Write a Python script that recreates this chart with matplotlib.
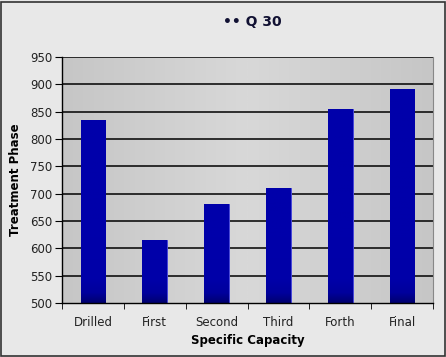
import matplotlib
matplotlib.use("Agg")
import matplotlib.pyplot as plt
import numpy as np

categories = ["Drilled", "First", "Second", "Third", "Forth", "Final"]
values = [834, 615, 681, 711, 855, 892]
yticks = [500, 550, 600, 650, 700, 750, 800, 850, 900, 950]

fig = plt.figure(figsize=(4.46, 3.57), dpi=100, facecolor="#e8e8e8")
ax = fig.add_axes([62 / 446, 1 - 303 / 357, 371 / 446, 246 / 357])

# plot area: soft horizontal gradient of grey
grad = np.abs(np.linspace(-1, 1, 256))[None, :]
ax.imshow(grad, extent=[-0.5, len(categories) - 0.5, 500, 950], aspect="auto",
          cmap=matplotlib.colors.LinearSegmentedColormap.from_list("g", ["#d8d8d8", "#c6c6c6"]),
          zorder=0)

for y in yticks[1:]:
    ax.axhline(y, color="black", lw=1.1, zorder=1)

x = np.arange(len(categories))
bars = ax.bar(x, values, width=0.4, color="#0000a6", edgecolor="#4848d8", lw=0.7, zorder=2)
bcmap = matplotlib.colors.LinearSegmentedColormap.from_list(
    "b", [(0, "#000070"), (0.15, "#00009c"), (0.35, "#0000a8"), (1, "#0000aa")])
for b in bars:
    h = b.get_height() - 500
    # dark band near the base, fixed in data height terms
    vgrad = np.clip(np.linspace(0, h, 256) / 120.0, 0, 1)[:, None]
    im = ax.imshow(vgrad, extent=[b.get_x(), b.get_x() + b.get_width(), 500, b.get_height()],
                   aspect="auto", origin="lower", cmap=bcmap, vmin=0, vmax=1, zorder=2.5)
    im.set_clip_path(b)

ax.set_xlim(-0.5, len(categories) - 0.5)
ax.set_ylim(500, 950)
ax.set_yticks(yticks)
ax.set_yticklabels([str(v) for v in yticks], fontsize=8.5, color="#222222")
ax.set_xticks(x)
ax.set_xticklabels(categories, fontsize=8.5, color="#222222")
ax.tick_params(axis="x", length=0, pad=9)
ax.set_xticks(np.arange(len(categories) + 1) - 0.5, minor=True)
ax.tick_params(axis="x", which="minor", length=4, direction="out")
ax.tick_params(axis="y", length=5, direction="out", pad=2)

ax.spines["top"].set_visible(False)
ax.spines["right"].set_color("#888888")
ax.spines["left"].set_linewidth(1.0)
ax.spines["bottom"].set_linewidth(1.0)

ax.set_xlabel("Specific Capacity", fontsize=8.5, fontweight="bold", labelpad=4)
ax.set_ylabel("Treatment Phase", fontsize=8.5, fontweight="bold", labelpad=6)

fig.text(0.566, 0.938, "\u2022\u2022 Q 30", fontsize=10, fontweight="bold",
         color="#111133", ha="center", va="center")

# outer frame
fig.patches.append(plt.Rectangle((0.002, 0.003), 0.995, 0.99, transform=fig.transFigure,
                                 fill=False, edgecolor="#333333", lw=1.2))

fig.savefig("out.png", dpi=100, facecolor=fig.get_facecolor())
